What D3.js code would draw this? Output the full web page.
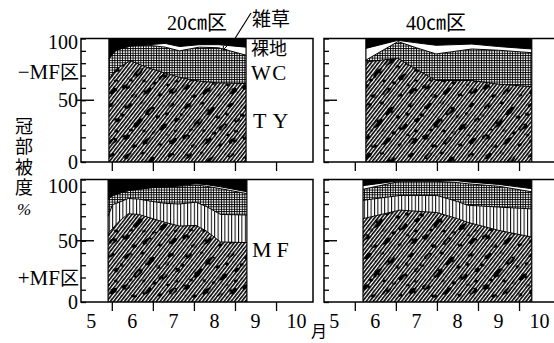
<!DOCTYPE html>
<html>
<head>
<meta charset="utf-8">
<script src="https://cdn.jsdelivr.net/npm/d3@7"></script>
<style>
  html, body { margin: 0; padding: 0; background: #fff; }
  svg { display: block; }
  .serif { font-family: "Liberation Serif", "Noto Sans CJK JP", serif; fill: #000; }
  .jp { font-family: "Noto Sans CJK JP", sans-serif; fill: #000; }
</style>
</head>
<body>
<svg id="chart" width="554" height="343"></svg>
<script>
// ---- data: crown coverage (%) by component, stacked bottom to top ----
const layerKeys = ["TY", "MF", "WC", "裸地", "雑草"];
const monthTicks = [6, 7, 8, 9, 10];
const monthLabels = [5, 6, 7, 8, 9, 10];
const yMinorTicks = [0, 10, 20, 30, 40, 50, 60, 70, 80, 90, 100];
const yTickLabels = [0, 50, 100];

// 20㎝区, −MF区 (dates as month + fraction)
const datesA = [5.93, 6.1, 6.45, 6.9, 7.3, 7.65, 8.13, 8.6, 9.27];
const tyA    = [67, 75, 82, 76, 72, 68.5, 65.5, 64, 63.5];
const wcA    = [16.5, 15.5, 12, 18.5, 21, 21.5, 27.5, 28.5, 23];
const bareA  = [0, 0, 0, 0.5, 3, 3.5, 2, 2.5, 6.5];
const weedA  = [16.5, 9.5, 6, 5, 4, 6.5, 5, 5, 7];

// 40㎝区, −MF区
const datesB = [6.27, 7.05, 7.5, 7.98, 8.85, 9.5, 10.31];
const tyB    = [81, 84, 75, 66, 66, 63, 61];
const wcB    = [1.5, 13.5, 17.5, 21.5, 25.5, 27.5, 27.5];
const bareB  = [9.5, 1, 4, 7, 4, 3, 3];
const weedB  = [8, 1.5, 3.5, 5.5, 4.5, 6.5, 8.5];

// 20㎝区, +MF区
const datesC = [5.91, 6.02, 6.15, 6.4, 6.65, 7.0, 7.3, 7.65, 8.05, 8.3, 8.65, 9.29];
const tyC    = [56, 60, 65, 72, 71.5, 68, 65, 62, 62.5, 58, 49, 48.5];
const mfC    = [14, 19.5, 16, 12.5, 12.5, 14, 15.5, 18, 19, 20, 22.5, 22.5];
const wcC    = [14, 7.5, 7.5, 6.5, 8, 11.5, 13.5, 14.5, 14, 16.5, 21, 17.5];
const bareC  = [0, 0, 0, 0, 0, 0, 0.2, 0.5, 1, 1.3, 1.5, 1.5];
const weedC  = [16, 13, 11.5, 9, 8, 6.5, 5.8, 5, 3.5, 4.2, 6, 10];

// 40㎝区, +MF区
const datesD = [6.2, 7.1, 8.0, 8.5, 8.75, 9.5, 10.31];
const tyD    = [68, 75, 73, 68, 65, 58.5, 53];
const mfD    = [15, 12, 14, 14, 14, 19, 23];
const wcD    = [9, 11.5, 11.5, 15.5, 17.5, 17, 14];
const bareD  = [3, 0.5, 0.5, 1.5, 1.5, 1.5, 2.5];
const weedD  = [5, 1, 1, 1, 2, 4, 7.5];

function rows(dates, ty, mf, wc, bare, weed) {
  return dates.map((d, i) => ({
    date: d, "TY": ty[i], "MF": mf ? mf[i] : 0, "WC": wc[i], "裸地": bare[i], "雑草": weed[i]
  }));
}

const panels = [
  { rows: rows(datesA, tyA, null, wcA, bareA, weedA), x0: 81,  x1: 313, y0: 162, y1: 38.5, hasMF: false, bottomLabels: false },
  { rows: rows(datesB, tyB, null, wcB, bareB, weedB), x0: 324, x1: 556, y0: 162, y1: 38.5, hasMF: false, bottomLabels: false },
  { rows: rows(datesC, tyC, mfC, wcC, bareC, weedC),  x0: 81,  x1: 313, y0: 302, y1: 179.5, hasMF: true, bottomLabels: true },
  { rows: rows(datesD, tyD, mfD, wcD, bareD, weedD),  x0: 324, x1: 556, y0: 302, y1: 179.5, hasMF: true, bottomLabels: true }
];

const svg = d3.select("#chart");
const defs = svg.append("defs");

// diagonal hatch for TY
const ph = defs.append("pattern").attr("id", "hatch").attr("patternUnits", "userSpaceOnUse")
  .attr("width", 2.8).attr("height", 3).attr("patternTransform", "rotate(38)");
ph.append("rect").attr("width", 2.8).attr("height", 3).attr("fill", "#fff");
ph.append("rect").attr("width", 1.65).attr("height", 3).attr("fill", "#000");

// dark mottling over TY
const blobShapes = [
  [8, 6, 4.5, 2, -35], [30, 11, 6, 2.6, -40], [51, 5, 3.5, 1.8, -25], [18, 23, 6, 2.8, -45],
  [43, 27, 5, 2.4, -30], [6, 37, 4, 2.6, -10], [27, 41, 5.5, 2.2, -38], [53, 41, 4.5, 2.6, -28],
  [38, 17, 2.4, 1.8, 10], [14, 46, 3, 1.8, 0], [57, 20, 3, 2, -20], [34, 33, 2.3, 1.7, 0],
  [2, 15, 2.5, 1.6, 20], [22, 3, 2.2, 1.5, 0], [47, 14, 2.2, 1.6, 30], [11, 30, 2, 1.5, 0],
  [56, 31, 2.2, 1.6, 0], [40, 45, 2.4, 1.6, -15], [24, 31, 1.8, 1.4, 0], [48, 35, 1.8, 1.3, 0]
];
const pb = defs.append("pattern").attr("id", "blobs").attr("patternUnits", "userSpaceOnUse")
  .attr("width", 60).attr("height", 50);
blobShapes.forEach(b => {
  pb.append("ellipse").attr("cx", b[0]).attr("cy", b[1]).attr("rx", b[2]).attr("ry", b[3])
    .attr("transform", `rotate(${b[4]},${b[0]},${b[1]})`).attr("fill", "#000");
});
// fine white streaks that break the mottling
const ps = defs.append("pattern").attr("id", "streaks").attr("patternUnits", "userSpaceOnUse")
  .attr("width", 5.6).attr("height", 8).attr("patternTransform", "rotate(38)");
ps.append("rect").attr("x", 2.2).attr("y", 0).attr("width", 0.7).attr("height", 5.5).attr("fill", "#fff");

// vertical lines for MF
const pv = defs.append("pattern").attr("id", "vlines").attr("patternUnits", "userSpaceOnUse")
  .attr("width", 3.4).attr("height", 10);
pv.append("rect").attr("width", 3.4).attr("height", 10).attr("fill", "#fff");
pv.append("rect").attr("width", 1).attr("height", 10).attr("fill", "#000");

// fine grid for WC
const pg = defs.append("pattern").attr("id", "grid").attr("patternUnits", "userSpaceOnUse")
  .attr("width", 2.6).attr("height", 2.4);
pg.append("rect").attr("width", 2.6).attr("height", 2.4).attr("fill", "#fff");
pg.append("rect").attr("width", 2.6).attr("height", 0.9).attr("fill", "#000");
pg.append("rect").attr("width", 0.9).attr("height", 2.4).attr("fill", "#000");

const stack = d3.stack().keys(layerKeys);

panels.forEach((p, pi) => {
  const x = d3.scaleLinear().domain([5.25, 10.9]).range([p.x0, p.x1]);
  const y = d3.scaleLinear().domain([0, 100]).range([p.y0, p.y1]);
  const g = svg.append("g");
  const clipId = "clip" + pi;
  defs.append("clipPath").attr("id", clipId).append("rect")
    .attr("x", p.x0).attr("y", p.y1).attr("width", p.x1 - p.x0).attr("height", p.y0 - p.y1);

  g.append("rect").attr("x", p.x0).attr("y", p.y1).attr("width", p.x1 - p.x0)
    .attr("height", p.y0 - p.y1).attr("fill", "#fff");

  const series = stack(p.rows);
  const area = d3.area().x(d => x(d.data.date)).y0(d => y(d[0])).y1(d => y(d[1]));
  const topLine = d3.line().x(d => x(d.data.date)).y(d => y(d[1]));
  const body = g.append("g").attr("clip-path", `url(#${clipId})`);

  const fills = {
    "TY": ["url(#hatch)", "url(#blobs)", "url(#streaks)"],
    "MF": ["url(#vlines)"],
    "WC": ["url(#grid)"],
    "裸地": ["#fff"],
    "雑草": ["#000"]
  };
  series.forEach(s => {
    if (s.key === "MF" && !p.hasMF) return;
    fills[s.key].forEach(f => body.append("path").datum(s).attr("d", area).attr("fill", f));
  });
  // layer boundaries
  series.forEach(s => {
    if (s.key === "雑草") return;
    if (s.key === "MF" && !p.hasMF) return;
    body.append("path").datum(s).attr("d", topLine).attr("fill", "none")
      .attr("stroke", "#000").attr("stroke-width", 1);
  });
  // sides of the sampled period
  const first = p.rows[0].date, last = p.rows[p.rows.length - 1].date;
  [first, last].forEach(d => {
    body.append("line").attr("x1", x(d)).attr("x2", x(d)).attr("y1", y(0)).attr("y2", y(100))
      .attr("stroke", "#000").attr("stroke-width", 1.2);
  });

  // frame
  g.append("rect").attr("x", p.x0).attr("y", p.y1).attr("width", p.x1 - p.x0)
    .attr("height", p.y0 - p.y1).attr("fill", "none").attr("stroke", "#000").attr("stroke-width", 1.5);

  // y ticks inside the frame
  const yAxis = d3.axisLeft(y).tickValues(yMinorTicks).tickSize(-5).tickFormat("");
  const ya = g.append("g").attr("transform", `translate(${p.x0},0)`).call(yAxis);
  ya.select(".domain").remove();
  ya.selectAll("line").attr("stroke-width", 1.3);
  // longer mark at 50
  const majorLeft = pi % 2 === 0 ? p.x0 - 4 : p.x0;
  g.append("line").attr("x1", majorLeft).attr("x2", p.x0 + 13).attr("y1", y(50)).attr("y2", y(50))
    .attr("stroke", "#000").attr("stroke-width", 1.4);

  // month boundary ticks below the frame
  const xAxis = d3.axisBottom(x).tickValues(monthTicks).tickSize(9).tickFormat("");
  const xa = g.append("g").attr("transform", `translate(0,${p.y0})`).call(xAxis);
  xa.select(".domain").remove();
  xa.selectAll("line").attr("stroke-width", 1.3);

  if (pi % 2 === 0) {
    yTickLabels.forEach(v => {
      g.append("text").attr("class", "serif").attr("x", 78)
        .attr("y", y(v) + (v === 100 ? (pi === 0 ? 3 : 6) : 0))
        .attr("text-anchor", "end").attr("dominant-baseline", "central")
        .attr("font-size", 20).text(v);
    });
  }
  if (p.bottomLabels) {
    monthLabels.forEach(m => {
      g.append("text").attr("class", "serif").attr("x", x(m + 0.5)).attr("y", 328)
        .attr("text-anchor", "middle").attr("font-size", 20).text(m);
    });
  }
});

// titles and annotations
svg.append("text").attr("class", "serif").attr("x", 197).attr("y", 30)
  .attr("text-anchor", "middle").attr("font-size", 20).text("20㎝区");
svg.append("text").attr("class", "serif").attr("x", 436).attr("y", 30)
  .attr("text-anchor", "middle").attr("font-size", 20).text("40㎝区");

svg.append("text").attr("class", "jp").attr("x", 252).attr("y", 26).attr("font-size", 19).text("雑草");
svg.append("line").attr("x1", 251).attr("y1", 13).attr("x2", 234).attr("y2", 40)
  .attr("stroke", "#000").attr("stroke-width", 1.2);
svg.append("text").attr("class", "jp").attr("x", 251).attr("y", 55).attr("font-size", 18).text("裸地");
svg.append("path").attr("d", "M229,44 L223,50 M223,50 l0.5,-4 M223,50 l4,-0.5")
  .attr("stroke", "#000").attr("stroke-width", 1).attr("fill", "none");
svg.append("text").attr("class", "serif").attr("x", 251).attr("y", 80).attr("font-size", 21)
  .attr("letter-spacing", 1.5).text("WC");
svg.append("text").attr("class", "serif").attr("x", 253).attr("y", 128).attr("font-size", 22)
  .attr("letter-spacing", 6).text("TY");
svg.append("text").attr("class", "serif").attr("x", 252).attr("y", 257).attr("font-size", 22)
  .attr("letter-spacing", 5).text("MF");

const rowLabel = (txt, yPos) => {
  const t = svg.append("text").attr("class", "serif").attr("x", 79).attr("y", yPos)
    .attr("text-anchor", "end").attr("font-size", 21);
  t.append("tspan").text(txt);
  t.append("tspan").attr("class", "jp").attr("font-size", 19).text("区");
};
rowLabel("−MF", 79);
rowLabel("+MF", 285);

// vertical axis title
svg.append("text").attr("class", "jp").attr("x", 24).attr("y", 117)
  .attr("writing-mode", "vertical-rl").attr("font-size", 18).attr("letter-spacing", 2.5)
  .text("冠部被度");
svg.append("text").attr("class", "serif").attr("x", 24).attr("y", 215)
  .attr("text-anchor", "middle").attr("font-size", 17).attr("font-style", "italic").text("%");

svg.append("text").attr("class", "jp").attr("x", 319).attr("y", 337)
  .attr("text-anchor", "middle").attr("font-size", 16).text("月");
</script>
</body>
</html>
